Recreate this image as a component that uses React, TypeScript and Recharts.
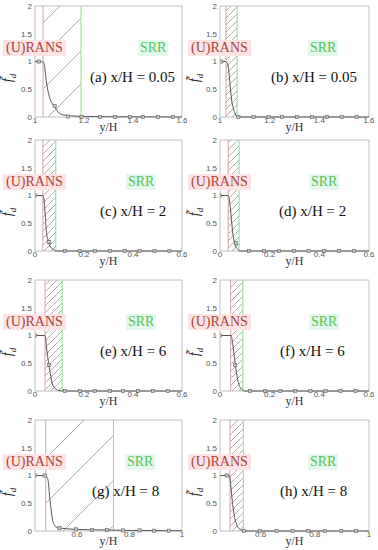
import React from 'react';
import { ComposedChart, Line, XAxis, YAxis, ReferenceLine, ReferenceArea } from 'recharts';

// ─── data ────────────────────────────────────────────────────────────────────
const ticksWide = [1, 1.2, 1.4, 1.6];
const ticksNear = [0, 0.2, 0.4, 0.6];
const ticksFar = [0.6, 0.8, 1];
const yTicks = [0, 0.5, 1, 1.5, 2];

// (a) x/H = 0.05
const aX = [1, 1.02, 1.033, 1.038, 1.041, 1.046, 1.05, 1.061, 1.074, 1.082, 1.094, 1.114, 1.15, 1.2, 1.3, 1.45, 1.6];
const aF = [1, 1, 0.99, 0.95, 0.85, 0.65, 0.54, 0.33, 0.22, 0.17, 0.09, 0.04, 0.02, 0.01, 0.005, 0.002, 0];
const aMX = [1.015, 1.08, 1.135, 1.19, 1.265, 1.327, 1.388, 1.44, 1.502, 1.563];
const aMF = [1, 0.2, 0.01, 0.005, 0, 0, 0, 0, 0, 0];

// (b) x/H = 0.05
const bX = [1, 1.02, 1.026, 1.031, 1.036, 1.04, 1.047, 1.054, 1.061, 1.071, 1.1, 1.6];
const bF = [1, 1, 0.99, 0.96, 0.8, 0.6, 0.3, 0.15, 0.06, 0, 0, 0];
const bMX = [1.005, 1.074, 1.135, 1.196, 1.25, 1.31, 1.37, 1.43, 1.49, 1.55];
const bMF = [1, 0, 0, 0, 0, 0, 0, 0, 0, 0];

// (c) x/H = 2
const cX = [0, 0.03, 0.034, 0.038, 0.041, 0.047, 0.054, 0.061, 0.074, 0.088, 0.12, 0.6];
const cF = [1, 1, 0.98, 0.88, 0.7, 0.33, 0.18, 0.09, 0.03, 0, 0, 0];
const cMX = [0, 0.058, 0.122, 0.183, 0.244, 0.305, 0.366, 0.427, 0.488, 0.549];
const cMF = [1, 0.16, 0, 0, 0, 0, 0, 0, 0, 0];

// (d) x/H = 2
const dX = [0, 0.032, 0.036, 0.041, 0.047, 0.053, 0.06, 0.071, 0.08, 0.12, 0.6];
const dF = [1, 1, 0.97, 0.8, 0.52, 0.27, 0.12, 0.03, 0, 0, 0];
const dMX = [0, 0.064, 0.117, 0.177, 0.237, 0.297, 0.357, 0.42, 0.48, 0.54];
const dMF = [1, 0.14, 0, 0, 0, 0, 0, 0, 0, 0];

// (e) x/H = 6
const eX = [0, 0.04, 0.044, 0.047, 0.054, 0.061, 0.068, 0.079, 0.095, 0.12, 0.6];
const eF = [1, 1, 0.93, 0.79, 0.55, 0.36, 0.18, 0.06, 0.01, 0, 0];
const eMX = [0, 0.058, 0.122, 0.183, 0.244, 0.305, 0.359, 0.42, 0.481, 0.542];
const eMF = [1, 0.47, 0, 0, 0, 0, 0, 0, 0, 0];

// (f) x/H = 6
const fX = [0, 0.045, 0.051, 0.058, 0.065, 0.074, 0.088, 0.101, 0.12, 0.6];
const fF = [1, 1, 0.85, 0.61, 0.36, 0.15, 0.03, 0, 0, 0];
const fMX = [0, 0.061, 0.121, 0.182, 0.243, 0.303, 0.364, 0.425, 0.485, 0.546];
const fMF = [1, 0.47, 0, 0, 0, 0, 0, 0, 0, 0];

// (g) x/H = 8
const gX = [0.44, 0.48, 0.485, 0.49, 0.496, 0.502, 0.508, 0.521, 0.54, 0.596, 0.683, 0.807, 1];
const gF = [1, 1, 0.97, 0.91, 0.61, 0.36, 0.18, 0.07, 0.05, 0.03, 0.02, 0.01, 0.005];
const gMX = [0.44, 0.477, 0.533, 0.596, 0.658, 0.714, 0.776, 0.838, 0.894, 0.95];
const gMF = [1, 1, 0.05, 0.03, 0.02, 0.015, 0.01, 0.01, 0.005, 0.005];

// (h) x/H = 8
const hX = [0.45, 0.484, 0.489, 0.495, 0.502, 0.511, 0.524, 0.538, 0.6, 1];
const hF = [1, 1, 0.85, 0.55, 0.3, 0.12, 0.03, 0, 0, 0];
const hMX = [0.475, 0.538, 0.597, 0.659, 0.718, 0.776, 0.837, 0.898, 0.953];
const hMF = [1, 0, 0, 0, 0, 0, 0, 0, 0];

const zip = (xs: number[], ys: number[]) => xs.map((x, i) => ({ x, f: ys[i] }));

const COLS = [
  { left: 0, plotL: 35, plotR: 182, fx: 8 },
  { left: 188, plotL: 220, plotR: 369, fx: 195 },
];
const ROW_TOPS = [6, 140, 280, 420];

const PANELS = [
  { id: 'a', row: 0, col: 0, curve: zip(aX, aF), marks: zip(aMX, aMF), domain: [1, 1.6], ticks: ticksWide, rans: 1.033, srr: 1.188, hatch: 33, label: '(a) x/H = 0.05', labelX: 90, srrX: 140 },
  { id: 'b', row: 0, col: 1, curve: zip(bX, bF), marks: zip(bMX, bMF), domain: [1, 1.6], ticks: ticksWide, rans: 1.024, srr: 1.069, hatch: 7, label: '(b) x/H = 0.05', labelX: 271, srrX: 310 },
  { id: 'c', row: 1, col: 0, curve: zip(cX, cF), marks: zip(cMX, cMF), domain: [0, 0.6], ticks: ticksNear, rans: 0.032, srr: 0.085, hatch: 7, label: '(c) x/H = 2', labelX: 100, srrX: 128 },
  { id: 'd', row: 1, col: 1, curve: zip(dX, dF), marks: zip(dMX, dMF), domain: [0, 0.6], ticks: ticksNear, rans: 0.033, srr: 0.077, hatch: 7, label: '(d) x/H = 2', labelX: 279, srrX: 311 },
  { id: 'e', row: 2, col: 0, curve: zip(eX, eF), marks: zip(eMX, eMF), domain: [0, 0.6], ticks: ticksNear, rans: 0.041, srr: 0.111, hatch: 7, label: '(e) x/H = 6', labelX: 100, srrX: 128 },
  { id: 'f', row: 2, col: 1, curve: zip(fX, fF), marks: zip(fMX, fMF), domain: [0, 0.6], ticks: ticksNear, rans: 0.043, srr: 0.092, hatch: 7, label: '(f) x/H = 6', labelX: 280, srrX: 311 },
  { id: 'g', row: 3, col: 0, curve: zip(gX, gF), marks: zip(gMX, gMF), domain: [0.44, 1], ticks: ticksFar, rans: 0.481, srr: 0.739, hatch: 45, label: '(g) x/H = 8', labelX: 92, srrX: 127 },
  { id: 'h', row: 3, col: 1, curve: zip(hX, hF), marks: zip(hMX, hMF), domain: [0.45, 1], ticks: ticksFar, rans: 0.487, srr: 0.536, hatch: 7, label: '(h) x/H = 8', labelX: 280, srrX: 310 },
];

const C = {
  curve: '#555',
  rans: '#d9a3a3',
  srr: '#8ede8e',
  hatch: '#9a9a9a',
  frame: '#b0b0b0',
  tick: '#555',
  ransText: '#a8433a',
  ransBg: '#fde3e3',
  srrText: '#55c455',
  srrBg: '#e4f8ec',
};

const SERIF = '"Liberation Serif", "DejaVu Serif", serif';
const tickStyle = { fontSize: 8, fill: C.tick, fontFamily: '"Liberation Sans", Arial, sans-serif' };

const CHART_W = 189;
const CHART_H = 137;
const PLOT_H = 111;

function Marker(props: any) {
  const { cx, cy } = props;
  if (cx == null || cy == null) return null;
  return <rect x={cx - 1.6} y={cy - 1.6} width={3.2} height={3.2} fill="#c4c4c4" stroke="#666" strokeWidth={0.6} />;
}

function Panel({ p }: { p: (typeof PANELS)[number] }) {
  const col = COLS[p.col];
  const plotTop = ROW_TOPS[p.row];
  const s = p.hatch;
  return (
    <>
      <div style={{ position: 'absolute', left: col.left, top: plotTop - 6 }}>
        <ComposedChart
          width={CHART_W}
          height={CHART_H}
          margin={{ top: 6, right: col.left + CHART_W - col.plotR, left: 0, bottom: 0 }}
        >
          <defs>
            <pattern id={`hatch-${p.id}`} patternUnits="userSpaceOnUse" width={s} height={s}>
              <path
                d={`M0,${s} L${s},0 M-2,2 L2,-2 M${s - 2},${s + 2} L${s + 2},${s - 2}`}
                stroke={C.hatch}
                strokeWidth={0.8}
              />
            </pattern>
          </defs>
          <XAxis
            dataKey="x"
            type="number"
            domain={p.domain}
            ticks={p.ticks}
            allowDataOverflow
            height={20}
            axisLine={false}
            tickLine={false}
            tickSize={0}
            tickMargin={0}
            tick={tickStyle}
            interval={0}
          />
          <YAxis
            type="number"
            domain={[0, 2]}
            ticks={yTicks}
            width={col.plotL - col.left}
            axisLine={false}
            tickLine={false}
            tickSize={0}
            tickMargin={3}
            tick={tickStyle}
            interval={0}
          />
          <ReferenceArea x1={p.rans} x2={p.srr} y1={0} y2={2} fill={`url(#hatch-${p.id})`} fillOpacity={1} stroke="none" />
          <ReferenceLine x={p.rans} stroke={C.rans} strokeWidth={1} />
          <ReferenceLine x={p.srr} stroke={C.srr} strokeWidth={1} />
          <Line data={p.curve} dataKey="f" type="monotone" stroke={C.curve} strokeWidth={1} dot={false} isAnimationActive={false} />
          <Line data={p.marks} dataKey="f" stroke="none" dot={<Marker />} activeDot={false} isAnimationActive={false} />
          <ReferenceArea x1={p.domain[0]} x2={p.domain[1]} y1={0} y2={2} fill="none" stroke={C.frame} strokeWidth={0.8} />
        </ComposedChart>
      </div>

      {/* region labels */}
      <div style={{ position: 'absolute', left: col.left + (p.col === 0 ? 3 : 0), top: plotTop + 34, height: 16, padding: '0 3px', background: C.ransBg, color: C.ransText, fontFamily: SERIF, fontSize: 14, lineHeight: '16px', whiteSpace: 'nowrap' }}>
        (U)RANS
      </div>
      <div style={{ position: 'absolute', left: p.srrX - 2, top: plotTop + 34, height: 16, padding: '0 2px', background: C.srrBg, color: C.srrText, fontFamily: SERIF, fontSize: 14, lineHeight: '16px', whiteSpace: 'nowrap' }}>
        SRR
      </div>
      <div style={{ position: 'absolute', left: p.labelX, top: plotTop + 62, color: '#111', fontFamily: SERIF, fontSize: 15, lineHeight: '18px', whiteSpace: 'nowrap' }}>
        {p.label}
      </div>

      {/* axis titles */}
      <div style={{ position: 'absolute', left: (col.plotL + col.plotR) / 2 - 20, width: 40, top: plotTop + PLOT_H + 3, textAlign: 'center', color: '#333', fontFamily: SERIF, fontSize: 12, lineHeight: '14px' }}>
        y/H
      </div>
      <div style={{ position: 'absolute', left: col.fx - 15, top: plotTop + 72 - 9, width: 30, height: 18, textAlign: 'center', transform: 'rotate(-90deg)', color: '#222', fontFamily: SERIF, fontSize: 14, lineHeight: '18px', whiteSpace: 'nowrap' }}>
        <i>{'f\u0303'}</i><sub style={{ fontSize: 9, fontStyle: 'italic' }}>d</sub>
      </div>
    </>
  );
}

export default function App() {
  return (
    <div style={{ position: 'fixed', left: 0, top: 0, width: 378, height: 550, background: '#fff', overflow: 'hidden' }}>
      {PANELS.map(p => <Panel key={p.id} p={p} />)}
    </div>
  );
}
